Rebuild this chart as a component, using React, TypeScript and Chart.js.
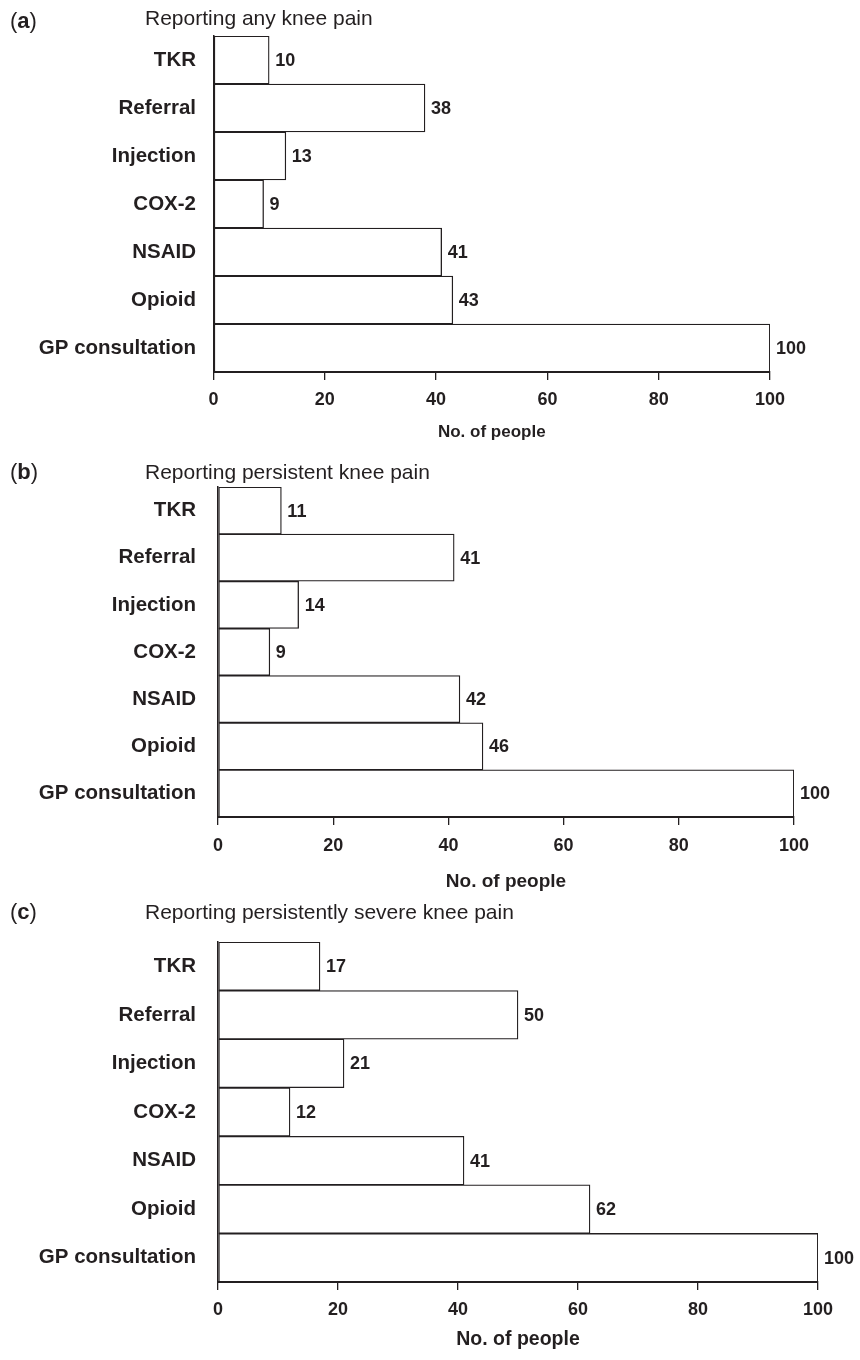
import React, { useEffect, useRef } from "react";
import { Chart, registerables } from "chart.js";

Chart.register(...registerables);

// ---- data ----
const categories = ["TKR", "Referral", "Injection", "COX-2", "NSAID", "Opioid", "GP consultation"];
const valuesA = [10, 38, 13, 9, 41, 43, 100];
const valuesB = [11, 41, 14, 9, 42, 46, 100];
const valuesC = [17, 50, 21, 12, 41, 62, 100];
const xTickValues = [0, 20, 40, 60, 80, 100];
const panelLetters = ["a", "b", "c"];
const panelTitles = [
  "Reporting any knee pain",
  "Reporting persistent knee pain",
  "Reporting persistently severe knee pain",
];
const axisTitle = "No. of people";

// ---- styling / layout ----
const FONT = '"Liberation Sans", Arial, Helvetica, sans-serif';
const INK = "#231f20";

type PanelLayout = {
  top: number;
  height: number;
  plotLeft: number;
  plotRight: number;
  plotTop: number;
  plotBottom: number;
  tickCenter: number;
  titleCenter: number;
  titleSize: number;
  headY: number;
  letterY: number;
};

const layouts: PanelLayout[] = [
  { top: 0, height: 450, plotLeft: 213.5, plotRight: 770, plotTop: 36, plotBottom: 372, tickCenter: 400, titleCenter: 432, titleSize: 17, headY: 18, letterY: 20.5 },
  { top: 450, height: 450, plotLeft: 218, plotRight: 794, plotTop: 487, plotBottom: 817, tickCenter: 846, titleCenter: 882, titleSize: 19, headY: 472, letterY: 472 },
  { top: 900, height: 460, plotLeft: 218, plotRight: 818, plotTop: 942, plotBottom: 1282, tickCenter: 1310, titleCenter: 1340, titleSize: 19.5, headY: 912, letterY: 912 },
];

const CAT_SIZE = 20.5;
const TICK_SIZE = 18;
const VALUE_SIZE = 18;

const valueLabels = {
  id: "valueLabels",
  afterDatasetsDraw(chart: any) {
    const ctx = chart.ctx;
    const meta = chart.getDatasetMeta(0);
    const data = chart.data.datasets[0].data;
    ctx.save();
    ctx.font = `bold ${VALUE_SIZE}px ${FONT}`;
    ctx.fillStyle = INK;
    ctx.textAlign = "left";
    ctx.textBaseline = "middle";
    meta.data.forEach((el: any, i: number) => {
      ctx.fillText(String(data[i]), el.x + 6, el.y + 1);
    });
    ctx.restore();
  },
};

function Panel({ values, layout }: { values: number[]; layout: PanelLayout }) {
  const ref = useRef<HTMLCanvasElement | null>(null);
  useEffect(() => {
    if (!ref.current) return;
    const L = layout;
    const titleLH = L.titleSize * 1.2;
    const scaleBottom = L.titleCenter + titleLH / 2;
    const xAxisHeight = scaleBottom - L.plotBottom;
    const tickLH = TICK_SIZE * 1.2;
    const tickLen = 8;
    const tickPad = L.tickCenter - L.plotBottom - tickLen - tickLH / 2;
    const chart = new Chart(ref.current, {
      type: "bar",
      data: {
        labels: categories,
        datasets: [
          {
            data: values,
            backgroundColor: "#ffffff",
            borderColor: INK,
            borderWidth: 1.3,
            borderSkipped: false,
            barPercentage: 1,
            categoryPercentage: 1,
          },
        ],
      },
      options: {
        indexAxis: "y",
        animation: false,
        responsive: false,
        devicePixelRatio: 1,
        layout: {
          padding: {
            left: 0,
            top: L.plotTop - L.top,
            right: 860 - L.plotRight,
            bottom: L.top + L.height - scaleBottom,
          },
        },
        plugins: {
          legend: { display: false },
          tooltip: { enabled: false },
          title: { display: false },
        },
        scales: {
          x: {
            type: "linear",
            min: 0,
            max: 100,
            afterBuildTicks: (scale: any) => {
              scale.ticks = xTickValues.map((v) => ({ value: v }));
            },
            afterFit: (scale: any) => {
              scale.height = xAxisHeight;
            },
            grid: {
              display: true,
              drawOnChartArea: false,
              drawTicks: true,
              tickLength: tickLen,
              color: INK,
              lineWidth: 1.3,
            },
            border: { display: true, color: INK, width: 2 },
            ticks: {
              color: INK,
              font: { family: FONT, size: TICK_SIZE, weight: "bold" },
              padding: tickPad,
              maxRotation: 0,
              autoSkip: false,
            },
            title: {
              display: true,
              text: axisTitle,
              color: INK,
              font: { family: FONT, size: L.titleSize, weight: "bold" },
              padding: { top: 0, bottom: 0 },
            },
          },
          y: {
            type: "category",
            afterFit: (scale: any) => {
              scale.width = L.plotLeft;
            },
            grid: { display: false, drawTicks: false },
            border: { display: true, color: INK, width: 1.5 },
            ticks: {
              color: INK,
              font: { family: FONT, size: CAT_SIZE, weight: "bold" },
              padding: L.plotLeft - 196,
              autoSkip: false,
            },
          },
        },
      },
      plugins: [valueLabels],
    } as any);
    return () => chart.destroy();
  }, [values, layout]);

  return (
    <canvas
      ref={ref}
      width={860}
      height={layout.height}
      style={{ position: "absolute", left: 0, top: layout.top, width: 860, height: layout.height }}
    />
  );
}

const allValues = [valuesA, valuesB, valuesC];

export default function App() {
  return (
    <div
      style={{
        position: "absolute",
        left: 0,
        top: 0,
        width: 860,
        height: 1360,
        background: "#ffffff",
        fontFamily: FONT,
        color: INK,
        overflow: "hidden",
      }}
    >
      {layouts.map((L, i) => (
        <React.Fragment key={i}>
          <Panel values={allValues[i]} layout={L} />
          <div
            style={{
              position: "absolute",
              left: 10,
              top: L.letterY - 13,
              lineHeight: "26px",
              fontSize: 22,
              whiteSpace: "nowrap",
            }}
          >
            (<b>{panelLetters[i]}</b>)
          </div>
          <div
            style={{
              position: "absolute",
              left: 145,
              top: L.headY - 13,
              lineHeight: "26px",
              fontSize: 21,
              whiteSpace: "nowrap",
            }}
          >
            {panelTitles[i]}
          </div>
        </React.Fragment>
      ))}
    </div>
  );
}
